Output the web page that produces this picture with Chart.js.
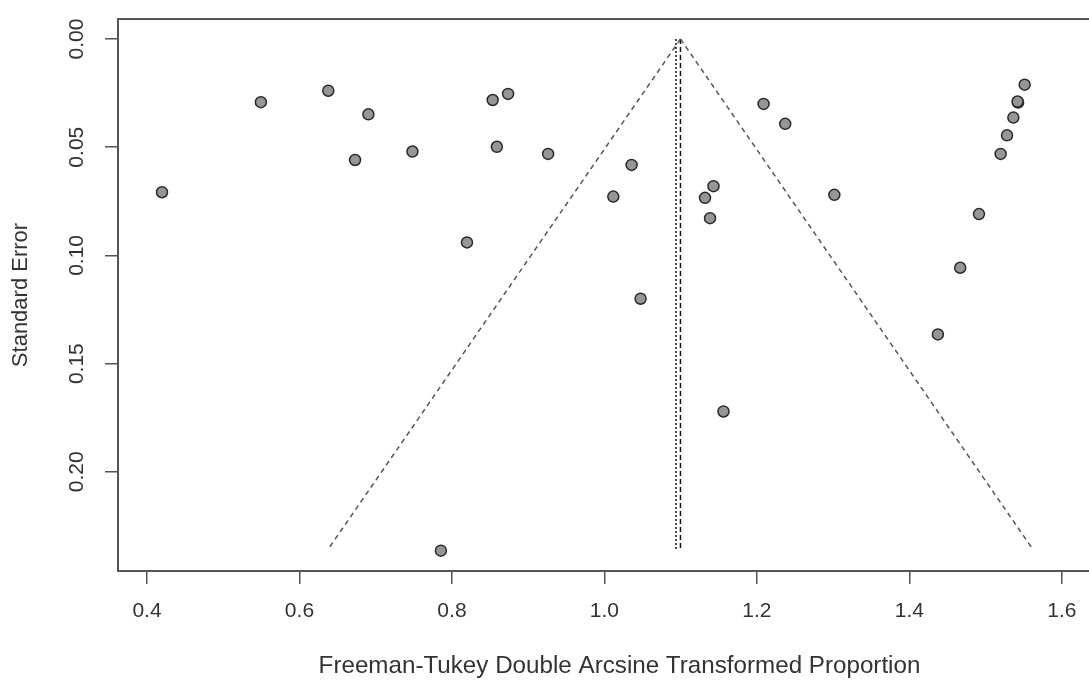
<!DOCTYPE html>
<html>
<head>
<meta charset="utf-8">
<script src="https://cdn.jsdelivr.net/npm/chart.js@4.4.0/dist/chart.umd.min.js"></script>
<style>
html, body { margin: 0; padding: 0; overflow: hidden; background: #fff; }
canvas { display: block; }
</style>
</head>
<body>
<canvas id="myChart" width="1089" height="681"></canvas>
<script>
// Datos (proporcion transformada, error estandar)
let estudiosX  = [0.4197, 0.5494, 0.6378, 0.6729, 0.6904, 0.7482, 0.7855, 0.8197, 0.8534, 0.8736,
                  0.8589, 0.9261, 1.0116, 1.0356, 1.0474, 1.1319, 1.1430, 1.1385, 1.1561, 1.2087,
                  1.2371, 1.3015, 1.4373, 1.4666, 1.4912, 1.5196, 1.5280, 1.5363, 1.5425, 1.5418,
                  1.5511];
let estudiosSE = [0.0708, 0.0292, 0.0239, 0.0559, 0.0348, 0.0520, 0.2364, 0.0940, 0.0282, 0.0254,
                  0.0498, 0.0531, 0.0728, 0.0582, 0.1200, 0.0734, 0.0680, 0.0828, 0.1721, 0.0300,
                  0.0392, 0.0720, 0.1365, 0.1057, 0.0809, 0.0531, 0.0445, 0.0363, 0.0294, 0.0289,
                  0.0211];
let ticksX = [0.4, 0.6, 0.8, 1.0, 1.2, 1.4, 1.6];
let ticksY = [0.00, 0.05, 0.10, 0.15, 0.20];
let tituloX = 'Freeman-Tukey Double Arcsine Transformed Proportion';
let tituloY = 'Standard Error';

let centroFijo      = 1.0997; // linea discontinua y vertice del embudo
let centroAleatorio = 1.0938; // linea punteada
let seMax           = 0.2358;

let fuente = '"Liberation Sans", Arial, sans-serif';

// puntos del embudo (95%)
let embudoIzq = [{x: centroFijo, y: 0}, {x: centroFijo - 1.96 * seMax, y: seMax}];
let embudoDer = [{x: centroFijo, y: 0}, {x: centroFijo + 1.96 * seMax, y: seMax}];
let puntos = estudiosX.map((x, i) => ({x: x, y: estudiosSE[i]}));

// plugin: etiquetas del eje Y giradas (como en R), titulo X y borde superior
const ejeY = {
  id: 'ejeY',
  afterDraw(chart) {
    const ctx = chart.ctx;
    const sy = chart.scales.y;
    const sx = chart.scales.x;
    const a = chart.chartArea;
    ctx.save();
    ctx.font = '21px ' + fuente;
    ctx.fillStyle = '#333';
    ctx.textAlign = 'center';
    ctx.textBaseline = 'middle';
    ticksY.forEach(v => {
      ctx.save();
      ctx.translate(sy.right - 41, sy.getPixelForValue(v));
      ctx.rotate(-Math.PI / 2);
      ctx.fillText(v.toFixed(2), 0, 0);
      ctx.restore();
    });
    // el titulo de R esta centrado en la region completa (que sigue a la derecha)
    ctx.font = '24.2px ' + fuente;
    ctx.fillText(tituloX, (a.left + a.right) / 2 + 16, sx.bottom - 15);
    ctx.strokeStyle = '#555';
    ctx.lineWidth = 2;
    ctx.beginPath();
    ctx.moveTo(a.left, a.top);
    ctx.lineTo(a.right, a.top);
    ctx.stroke();
    ctx.restore();
  }
};

function lineaV(x, dash) {
  return {
    type: 'line',
    data: [{x: x, y: 0}, {x: x, y: seMax}],
    borderColor: '#111',
    borderWidth: 1.5,
    borderDash: dash,
    pointRadius: 0,
    fill: false
  };
}

function renderGrafica() {
  const myChart = document.getElementById("myChart");
  new Chart(myChart, {
    type: 'scatter',
    data: {
      datasets: [
        {
          data: puntos,
          backgroundColor: '#969696',
          borderColor: '#2a2a2a',
          borderWidth: 1.5,
          pointRadius: 5.5
        },
        {
          type: 'line', data: embudoIzq, borderColor: '#555', borderWidth: 1.5,
          borderDash: [5, 4], pointRadius: 0, fill: false
        },
        {
          type: 'line', data: embudoDer, borderColor: '#555', borderWidth: 1.5,
          borderDash: [5, 4], pointRadius: 0, fill: false
        },
        lineaV(centroAleatorio, [2, 2]),
        lineaV(centroFijo, [5, 3])
      ]
    },
    options: {
      responsive: false,
      animation: false,
      layout: { autoPadding: false, padding: { top: 19, right: 0, bottom: 0, left: 0 } },
      plugins: { legend: { display: false }, tooltip: { enabled: false } },
      scales: {
        x: {
          type: 'linear',
          min: 0.3620,
          max: 1.6355,
          afterBuildTicks: s => { s.ticks = ticksX.map(v => ({value: v})); },
          afterFit: s => { s.height = 110; s.paddingLeft = 0; s.paddingRight = 0; },
          grid: { drawOnChartArea: false, tickLength: 13, color: '#555', lineWidth: 1.5 },
          border: { display: true, color: '#555', width: 2 },
          ticks: {
            padding: 15,
            color: '#333',
            font: { size: 21, family: fuente },
            callback: v => Number(v).toFixed(1)
          },
          title: { display: false }
        },
        y: {
          type: 'linear',
          reverse: true,
          min: -0.00923,
          max: 0.2458,
          afterBuildTicks: s => { s.ticks = ticksY.map(v => ({value: v})); },
          afterFit: s => { s.width = 118; s.paddingTop = 0; s.paddingBottom = 0; },
          grid: { drawOnChartArea: false, tickLength: 13, color: '#555', lineWidth: 1.5 },
          border: { display: true, color: '#555', width: 2 },
          ticks: { display: false },
          title: {
            display: true,
            text: tituloY,
            color: '#333',
            font: { size: 22, family: fuente },
            padding: { top: 8, bottom: 0 }
          }
        }
      }
    },
    plugins: [ejeY]
  });
}
renderGrafica();
</script>
</body>
</html>
